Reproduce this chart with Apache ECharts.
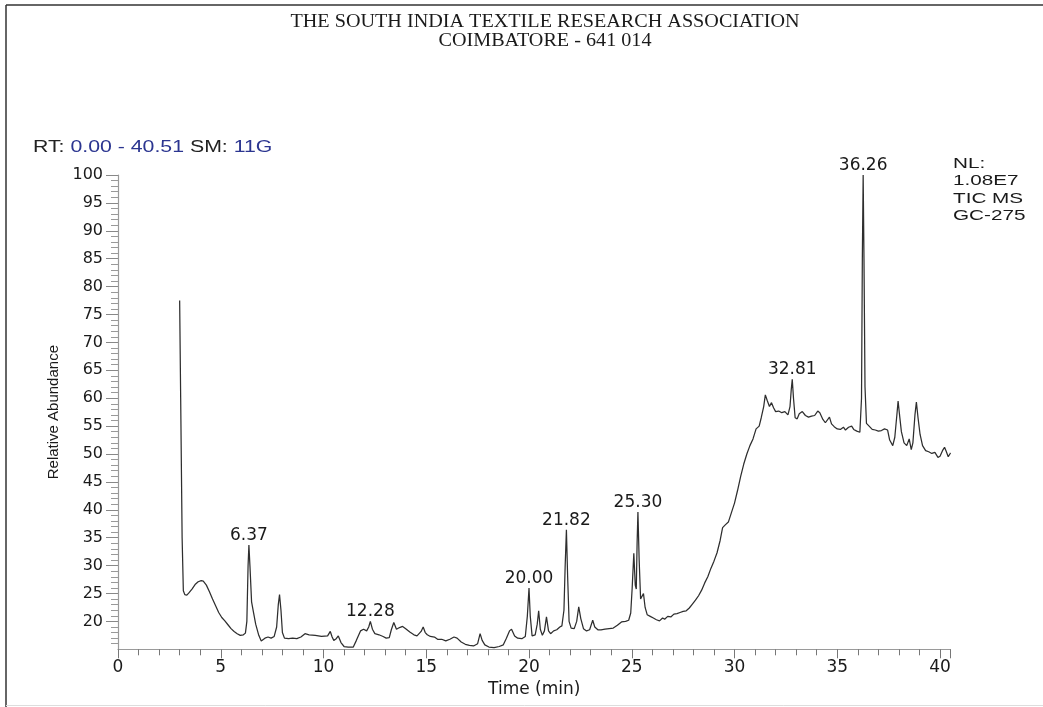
<!DOCTYPE html>
<html>
<head>
<meta charset="utf-8">
<script src="https://cdn.jsdelivr.net/npm/echarts@6/dist/echarts.min.js"></script>
<style>
html,body{margin:0;padding:0;background:#fff;}
#chart{width:1043px;height:707px;}
</style>
</head>
<body>
<div id="chart"></div>
<script>
// Retention times (min) of the TIC trace
const times = [
  3.00,3.05,3.12,3.18,3.25,3.35,3.45,3.6,3.75,3.9,4.05,4.15,4.3,4.45,4.6,4.75,4.9,5.05,5.2,5.35,5.5,5.65,5.8,5.95,6.1,6.2,
  6.27,6.33,6.37,6.42,6.5,6.6,6.7,6.85,6.97,7.05,7.15,7.3,7.45,7.6,7.72,7.8,7.86,7.93,8.0,8.1,8.3,8.5,8.7,8.9,9.1,9.3,9.6,9.9,
  10.2,10.33,10.42,10.5,10.62,10.72,10.85,11.0,11.2,11.45,11.6,11.8,11.95,12.1,12.2,12.28,12.38,12.5,12.7,12.9,13.05,13.2,13.3,
  13.42,13.55,13.7,13.85,14.0,14.2,14.4,14.55,14.75,14.85,14.95,15.05,15.2,15.4,15.55,15.75,15.95,16.15,16.35,16.5,16.7,16.9,
  17.1,17.3,17.5,17.62,17.72,17.85,18.05,18.3,18.55,18.75,18.9,19.05,19.15,19.3,19.45,19.65,19.82,19.92,20.00,20.06,20.15,20.3,
  20.4,20.47,20.55,20.65,20.75,20.85,20.95,21.05,21.2,21.35,21.5,21.6,21.7,21.76,21.82,21.88,21.95,22.05,22.2,22.32,22.42,22.52,
  22.65,22.8,22.95,23.1,23.2,23.35,23.5,23.7,23.9,24.1,24.3,24.5,24.7,24.85,24.95,25.02,25.1,25.17,25.22,25.26,25.30,25.36,25.43,
  25.5,25.57,25.65,25.75,25.9,26.05,26.2,26.35,26.5,26.6,26.75,26.9,27.05,27.2,27.35,27.5,27.65,27.8,27.95,28.1,28.25,28.4,28.55,
  28.7,28.85,29.0,29.15,29.3,29.42,29.55,29.7,29.85,30.0,30.15,30.3,30.45,30.6,30.75,30.9,31.05,31.2,31.3,31.42,31.5,31.6,31.7,
  31.8,31.9,32.0,32.15,32.3,32.45,32.6,32.7,32.76,32.81,32.87,32.95,33.05,33.15,33.3,33.45,33.6,33.75,33.9,34.05,34.15,34.3,34.42,
  34.5,34.62,34.72,34.85,35.0,35.15,35.3,35.4,35.55,35.7,35.8,35.95,36.1,36.18,36.22,36.26,36.3,36.35,36.42,36.55,36.7,36.85,37.0,
  37.15,37.3,37.45,37.55,37.7,37.8,37.9,37.96,38.03,38.12,38.25,38.38,38.5,38.6,38.68,38.78,38.85,38.93,39.03,39.15,39.3,39.45,
  39.6,39.75,39.9,40.0,40.12,40.22,40.3,40.4,40.48,40.51
];
// Relative abundance (%) at each retention time
const abundance = [
  77.5,60,35,25.5,24.8,24.7,25.1,25.8,26.6,27.1,27.3,27.2,26.5,25.3,24.0,22.8,21.6,20.7,20.1,19.4,18.7,18.2,17.8,17.5,17.6,17.9,
  20,30,33.7,30,23.5,21.5,19.5,17.5,16.5,16.3,17.0,17.2,17.0,17.3,19,23,24.8,22,18,17.0,16.9,17.0,16.9,17.2,17.8,17.6,17.5,17.3,
  17.4,18.2,17.2,16.6,16.9,17.4,16.2,15.5,15.4,15.4,16.6,18.3,18.6,18.3,19.0,20.0,18.6,17.8,17.6,17.3,17.0,17.1,18.5,
  19.8,18.6,18.9,19.1,18.7,18.1,17.6,17.4,18.2,19.0,18.0,17.6,17.3,17.2,16.8,16.8,16.5,16.8,17.2,17.0,16.3,15.9,
  15.7,15.6,16.0,17.8,16.6,15.8,15.4,15.3,15.5,15.8,17.0,18.3,18.6,17.4,17.0,16.9,17.3,21,26.0,21,17.4,17.6,
  19.5,21.9,18.6,17.5,18.3,20.8,18.3,17.8,18.3,18.5,19.0,19.2,22,30,36.4,28,20,18.8,18.7,20,22.6,20.5,
  18.7,18.3,18.5,20.2,19.0,18.5,18.5,18.6,18.7,18.8,19.3,19.9,20.0,20.2,21.5,26,32.2,26.5,25.8,34,39.6,31,24.0,
  23.8,25.0,22.5,21.2,20.9,20.6,20.3,20.1,20.6,20.4,20.9,20.8,21.3,21.4,21.6,21.8,21.9,22.4,23.1,23.8,24.6,25.6,26.9,
  28.0,29.5,30.8,32.3,34.5,36.8,37.3,37.8,39.5,41.2,43.5,46,48.2,50.0,51.5,52.7,54.5,55.0,56.5,58.5,60.6,59.5,58.5,
  59.2,58.3,57.6,57.7,57.4,57.6,57.0,58.5,61.5,63.4,60,56.5,56.3,57.2,57.6,56.9,56.6,56.8,56.9,57.7,57.4,56.2,55.6,
  55.9,56.6,55.4,54.9,54.5,54.4,54.8,54.3,54.8,55.0,54.4,54.1,53.9,60,85,100,85,62,55.5,55.0,54.4,54.3,54.1,
  54.2,54.5,54.3,52.5,51.5,53,57,59.5,57,54,52.0,51.5,52.7,50.8,52,57,59.3,56.5,53.5,51.5,50.6,50.4,
  50.1,50.3,49.4,49.6,50.6,51.2,50.5,49.5,50.0,50.2
];
// Labelled peaks
const peakTimes = [6.37, 12.28, 20.00, 21.82, 25.30, 32.81, 36.26];
const peakHeights = [33.7, 20.0, 26.0, 36.4, 39.6, 63.4, 100];

// Tick label values
const yTickValues = [20, 25, 30, 35, 40, 45, 50, 55, 60, 65, 70, 75, 80, 85, 90, 95, 100];

const titleLines = ['THE SOUTH INDIA TEXTILE RESEARCH ASSOCIATION', 'COIMBATORE - 641 014'];
const infoLines = ['NL:', '1.08E7', 'TIC MS', 'GC-275'];

const traceData = times.map((t, i) => [t, abundance[i]]);
const peakData = peakTimes.map((t, i) => [t, peakHeights[i]]);

const chart = echarts.init(document.getElementById('chart'), null, {renderer: 'canvas'});
const axisGray = '#9a9a9a';
const txt = '#1a1a1a';
chart.setOption({
  animation: false,
  backgroundColor: '#fff',
  grid: {left: 118, top: 175, width: 832.5, height: 474.3, containLabel: false},
  xAxis: {
    type: 'value', min: 0, max: 40.51, interval: 5,
    name: 'Time (min)', nameLocation: 'middle', nameGap: 29,
    nameTextStyle: {fontFamily: 'DejaVu Sans', fontSize: 17, color: txt},
    axisLine: {show: true, lineStyle: {color: axisGray, width: 1.2}},
    axisTick: {show: true, length: 9, lineStyle: {color: '#777', width: 1}},
    minorTick: {show: true, splitNumber: 5, length: 6, lineStyle: {color: '#777', width: 1}},
    splitLine: {show: false},
    axisLabel: {margin: 10, fontFamily: 'DejaVu Sans', fontSize: 17, color: txt,
      formatter: v => (Math.abs(v % 5) < 1e-9 ? String(v) : '')}
  },
  yAxis: {
    type: 'value', min: 15, max: 100, interval: 5,
    name: 'Relative Abundance', nameLocation: 'middle', nameGap: 56, nameRotate: 90,
    nameTextStyle: {fontFamily: 'Liberation Sans', fontSize: 15, color: txt},
    axisLine: {show: true, lineStyle: {color: axisGray, width: 1.2}},
    axisTick: {show: true, length: 12, customValues: yTickValues, lineStyle: {color: '#888', width: 1}},
    minorTick: {show: true, splitNumber: 5, length: 7, lineStyle: {color: '#999', width: 1}},
    splitLine: {show: false},
    axisLabel: {margin: 15, fontFamily: 'DejaVu Sans', fontSize: 16, color: txt, customValues: yTickValues,
      formatter: v => String(v)}
  },
  series: [
    {
      type: 'line', data: traceData, showSymbol: false, symbol: 'none',
      lineStyle: {color: '#2e2e2e', width: 1.25}, z: 2
    },
    {
      type: 'scatter', data: peakData, symbolSize: 0, z: 3, silent: true,
      itemStyle: {opacity: 1, color: 'rgba(0,0,0,0)'},
      label: {show: true, position: 'top', distance: 1, fontFamily: 'DejaVu Sans', fontSize: 17, color: txt, opacity: 1,
        formatter: p => p.value[0].toFixed(2)}
    }
  ],
  graphic: [
    {type: 'line', shape: {x1: 6, y1: 5, x2: 1043, y2: 5}, style: {stroke: '#333', lineWidth: 1.5}},
    {type: 'line', shape: {x1: 6, y1: 5, x2: 6, y2: 707}, style: {stroke: '#333', lineWidth: 1.5}},
    {type: 'line', shape: {x1: 6, y1: 705.5, x2: 1043, y2: 705.5}, style: {stroke: '#ddd', lineWidth: 1}},
    {type: 'text', x: 545, y: 22, scaleX: 1.12, style: {text: titleLines[0], font: '18px "Liberation Serif"', fill: txt, align: 'center', verticalAlign: 'middle'}},
    {type: 'text', x: 545, y: 41, scaleX: 1.12, style: {text: titleLines[1], font: '18px "Liberation Serif"', fill: txt, align: 'center', verticalAlign: 'middle'}},
    {type: 'text', x: 33, y: 148, scaleX: 1.33, style: {
      text: '{k|RT:} {v|0.00 - 40.51} {k|SM:} {v|11G}', font: '16px "Liberation Sans"', fill: txt,
      align: 'left', verticalAlign: 'middle',
      rich: {k: {fill: '#222', font: '16px "Liberation Sans"'}, v: {fill: '#2b3590', font: '16px "Liberation Sans"'}}
    }},
    {type: 'text', x: 953, y: 155, scaleX: 1.38, style: {text: infoLines.join('\n'), font: '15px "Liberation Sans"', fill: txt, lineHeight: 17.5, align: 'left', verticalAlign: 'top'}}
  ]
});
</script>
</body>
</html>
